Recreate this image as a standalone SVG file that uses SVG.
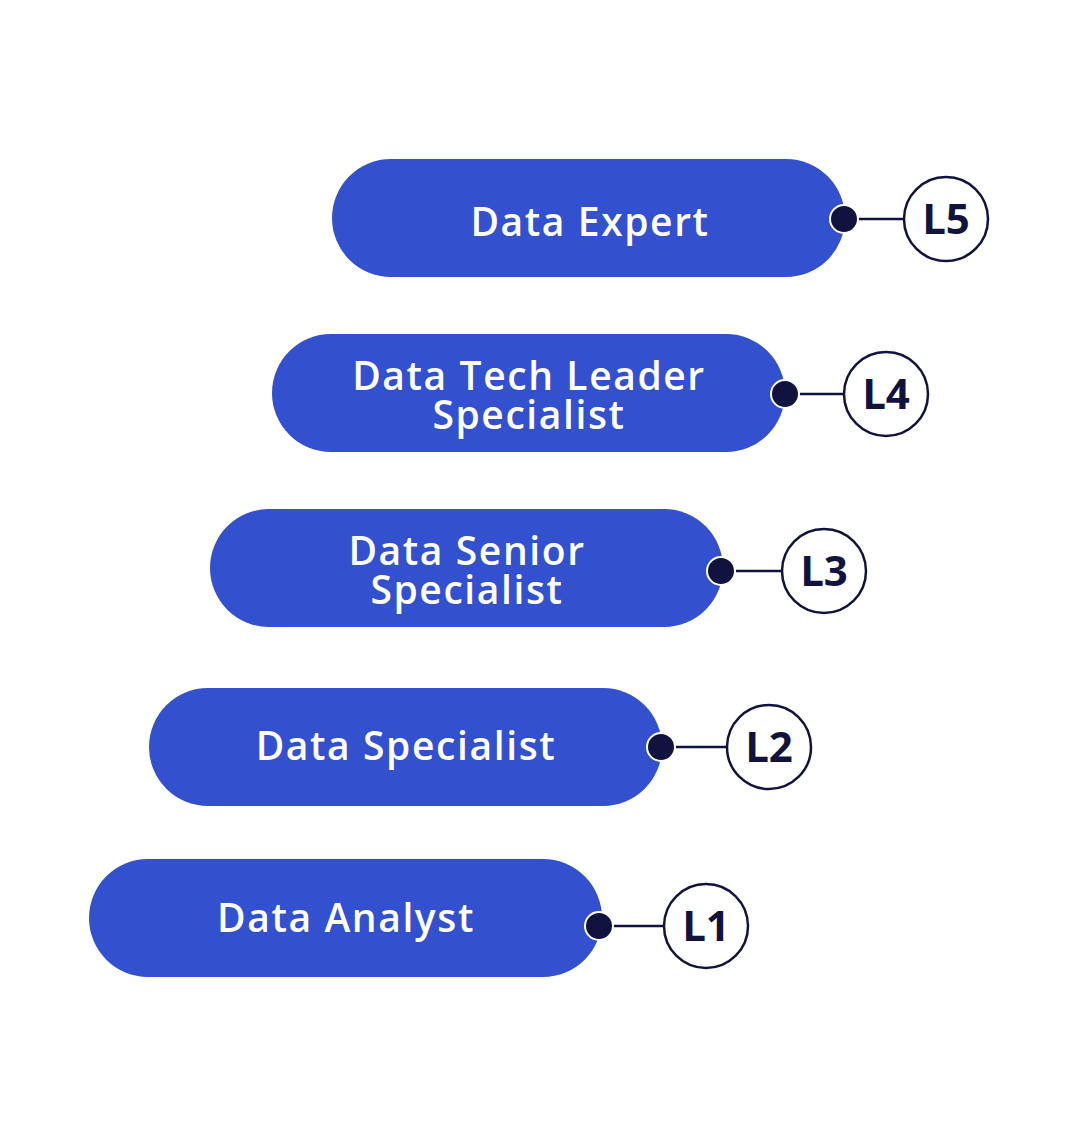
<svg xmlns="http://www.w3.org/2000/svg" width="1080" height="1137" viewBox="0 0 1080 1137">
<style>
.pill{fill:#3350ce}
.lbl{fill:#fff;font-family:"Open Sans",sans-serif;font-weight:600;font-size:39px;letter-spacing:1.6px;text-anchor:middle}
.dot{fill:#12123e;stroke:#fff;stroke-width:2}
.lvl{fill:#fff;stroke:#12123e;stroke-width:2.5}
.lt{fill:#12123e;font-family:"Open Sans",sans-serif;font-weight:700;font-size:42px;text-anchor:middle}
.ln{stroke:#12123e;stroke-width:2.5}
</style>
<rect width="1080" height="1137" fill="#fff"/>
<g id="connectors">
<line class="ln" x1="844" y1="219" x2="904" y2="219"/>
<line class="ln" x1="785" y1="394" x2="844" y2="394"/>
<line class="ln" x1="721" y1="571" x2="782" y2="571"/>
<line class="ln" x1="661" y1="747" x2="727" y2="747"/>
<line class="ln" x1="599" y1="926" x2="664" y2="926"/>
</g>
<g id="n5">
<rect class="pill" x="332" y="159" width="513" height="118" rx="59"/>
<text class="lbl" x="590" y="236">Data Expert</text>
<circle class="dot" cx="844" cy="219" r="14"/>
<circle class="lvl" cx="946" cy="219" r="42"/>
<text class="lt" x="946" y="234">L5</text>
</g>
<g id="n4">
<rect class="pill" x="272" y="334" width="513" height="118" rx="59"/>
<text class="lbl" x="529" y="390">Data Tech Leader</text>
<text class="lbl" x="529" y="429">Specialist</text>
<circle class="dot" cx="785" cy="394" r="14"/>
<circle class="lvl" cx="886" cy="394" r="42"/>
<text class="lt" x="886" y="409">L4</text>
</g>
<g id="n3">
<rect class="pill" x="210" y="509" width="513" height="118" rx="59"/>
<text class="lbl" x="467" y="565">Data Senior</text>
<text class="lbl" x="467" y="604">Specialist</text>
<circle class="dot" cx="721" cy="571" r="14"/>
<circle class="lvl" cx="824" cy="571" r="42"/>
<text class="lt" x="824" y="586">L3</text>
</g>
<g id="n2">
<rect class="pill" x="149" y="688" width="513" height="118" rx="59"/>
<text class="lbl" x="406" y="760">Data Specialist</text>
<circle class="dot" cx="661" cy="747" r="14"/>
<circle class="lvl" cx="769" cy="747" r="42"/>
<text class="lt" x="769" y="762">L2</text>
</g>
<g id="n1">
<rect class="pill" x="89" y="859" width="513" height="118" rx="59"/>
<text class="lbl" x="346" y="932">Data Analyst</text>
<circle class="dot" cx="599" cy="926" r="14"/>
<circle class="lvl" cx="706" cy="926" r="42"/>
<text class="lt" x="706" y="941">L1</text>
</g>
</svg>
